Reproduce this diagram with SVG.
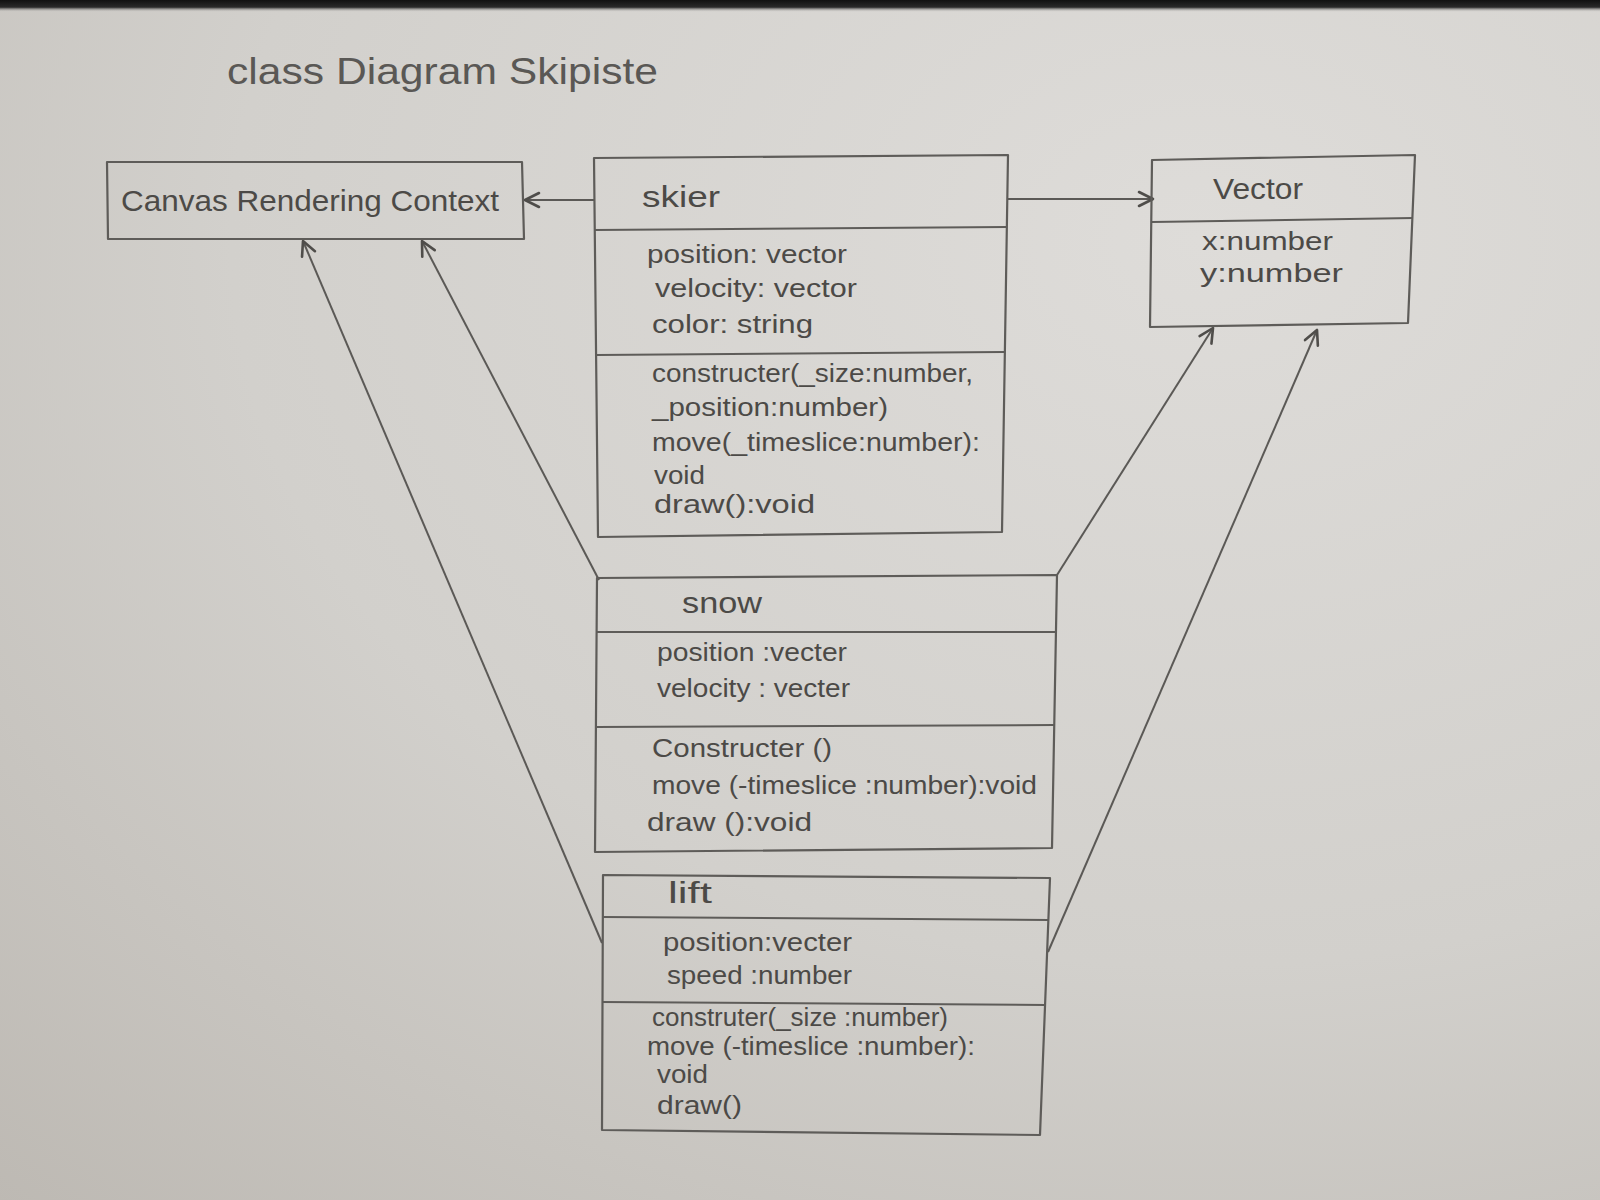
<svg xmlns="http://www.w3.org/2000/svg" width="1600" height="1200" viewBox="0 0 1600 1200">
  <defs>
    <radialGradient id="paper" cx="0.75" cy="0.2" r="1.1">
      <stop offset="0" stop-color="#dedcd9"/>
      <stop offset="0.55" stop-color="#d2d0cc"/>
      <stop offset="1" stop-color="#bdb9b3"/>
    </radialGradient>
    <linearGradient id="edge" x1="0" y1="0" x2="0" y2="1">
      <stop offset="0" stop-color="#111"/>
      <stop offset="0.6" stop-color="#2a2a2a"/>
      <stop offset="1" stop-color="#cfcdca" stop-opacity="0"/>
    </linearGradient>
    <marker id="open" viewBox="0 0 20 20" refX="18" refY="10" markerWidth="20" markerHeight="20" markerUnits="userSpaceOnUse" orient="auto">
      <path d="M4,3 L18,10 L4,17" fill="none" stroke="#4f4d4a" stroke-width="2.6" stroke-linecap="round" stroke-linejoin="round"/>
    </marker>
    <style>
      .box{fill:none;stroke:#5e5c59;stroke-width:2.2;stroke-linejoin:round}
      .div{fill:none;stroke:#5e5c59;stroke-width:2}
      .t{font-family:"Liberation Sans","DejaVu Sans",sans-serif;font-size:25px;fill:#4c4a47}
      .h{font-family:"Liberation Sans","DejaVu Sans",sans-serif;font-size:30px;fill:#4c4a47}
      .title{font-family:"Liberation Sans","DejaVu Sans",sans-serif;font-size:36px;fill:#5a5855}
      .conn{fill:none;stroke:#5b5956;stroke-width:2;marker-end:url(#open)}
    </style>
  </defs>
  <rect x="0" y="0" width="1600" height="1200" fill="url(#paper)"/>
  <rect x="0" y="0" width="1600" height="12" fill="url(#edge)"/>

  <text class="title" x="227" y="84" textLength="431" lengthAdjust="spacingAndGlyphs">class Diagram Skipiste</text>

  <g id="connectors">
    <line class="conn" x1="594" y1="200" x2="525" y2="200"/>
    <line class="conn" x1="1008" y1="199" x2="1153" y2="199"/>
    <line class="conn" x1="602" y1="943" x2="303" y2="241"/>
    <line class="conn" x1="599" y1="580" x2="422" y2="241"/>
    <line class="conn" x1="1057" y1="575" x2="1213" y2="328"/>
    <line class="conn" x1="1048" y1="952" x2="1317" y2="330"/>
  </g>

  <g id="canvas-rendering-context">
    <path class="box" d="M107,162 L522,162 L524,239 L108,239 Z"/>
    <text class="h" x="121" y="211" textLength="378" lengthAdjust="spacingAndGlyphs">Canvas Rendering Context</text>
  </g>

  <g id="skier">
    <path class="box" d="M594,158 L1008,155 L1002,532 L598,537 Z"/>
    <path class="div" d="M595,230 L1007,227"/>
    <path class="div" d="M597,355 L1004,352"/>
    <text class="h" x="642" y="207" textLength="78" lengthAdjust="spacingAndGlyphs">skier</text>
    <text class="t" x="647" y="263" textLength="200" lengthAdjust="spacingAndGlyphs">position: vector</text>
    <text class="t" x="655" y="297" textLength="202" lengthAdjust="spacingAndGlyphs">velocity: vector</text>
    <text class="t" x="652" y="333" textLength="161" lengthAdjust="spacingAndGlyphs">color: string</text>
    <text class="t" x="652" y="382" textLength="321" lengthAdjust="spacingAndGlyphs">constructer(_size:number,</text>
    <text class="t" x="652" y="416" textLength="236" lengthAdjust="spacingAndGlyphs">_position:number)</text>
    <text class="t" x="652" y="451" textLength="328" lengthAdjust="spacingAndGlyphs">move(_timeslice:number):</text>
    <text class="t" x="654" y="484" textLength="51" lengthAdjust="spacingAndGlyphs">void</text>
    <text class="t" x="654" y="513" textLength="161" lengthAdjust="spacingAndGlyphs">draw():void</text>
  </g>

  <g id="vector">
    <path class="box" d="M1152,160 L1415,155 L1408,323 L1150,327 Z"/>
    <path class="div" d="M1152,222 L1413,218"/>
    <text class="h" x="1213" y="199" textLength="90" lengthAdjust="spacingAndGlyphs">Vector</text>
    <text class="t" x="1202" y="250" textLength="131" lengthAdjust="spacingAndGlyphs">x:number</text>
    <text class="t" x="1200" y="282" textLength="143" lengthAdjust="spacingAndGlyphs">y:number</text>
  </g>

  <g id="snow">
    <path class="box" d="M597,578 L1057,575 L1052,848 L595,852 Z"/>
    <path class="div" d="M597,632 L1056,632"/>
    <path class="div" d="M596,727 L1054,725"/>
    <text class="h" x="682" y="613" textLength="80" lengthAdjust="spacingAndGlyphs">snow</text>
    <text class="t" x="657" y="661" textLength="190" lengthAdjust="spacingAndGlyphs">position :vecter</text>
    <text class="t" x="657" y="697" textLength="193" lengthAdjust="spacingAndGlyphs">velocity : vecter</text>
    <text class="t" x="652" y="757" textLength="180" lengthAdjust="spacingAndGlyphs">Constructer ()</text>
    <text class="t" x="652" y="794" textLength="385" lengthAdjust="spacingAndGlyphs">move (-timeslice :number):void</text>
    <text class="t" x="647" y="831" textLength="165" lengthAdjust="spacingAndGlyphs">draw ():void</text>
  </g>

  <g id="lift">
    <path class="box" d="M603,875 L1050,878 L1040,1135 L602,1130 Z"/>
    <path class="div" d="M603,917 L1049,920"/>
    <path class="div" d="M602,1002 L1046,1005"/>
    <text class="h" x="668" y="903" textLength="44" lengthAdjust="spacingAndGlyphs">lift</text>
    <text class="t" x="663" y="951" textLength="189" lengthAdjust="spacingAndGlyphs">position:vecter</text>
    <text class="t" x="667" y="984" textLength="185" lengthAdjust="spacingAndGlyphs">speed :number</text>
    <text class="t" x="652" y="1026" textLength="296" lengthAdjust="spacingAndGlyphs">construter(_size :number)</text>
    <text class="t" x="647" y="1055" textLength="328" lengthAdjust="spacingAndGlyphs">move (-timeslice :number):</text>
    <text class="t" x="657" y="1083" textLength="51" lengthAdjust="spacingAndGlyphs">void</text>
    <text class="t" x="657" y="1114" textLength="85" lengthAdjust="spacingAndGlyphs">draw()</text>
  </g>
</svg>
